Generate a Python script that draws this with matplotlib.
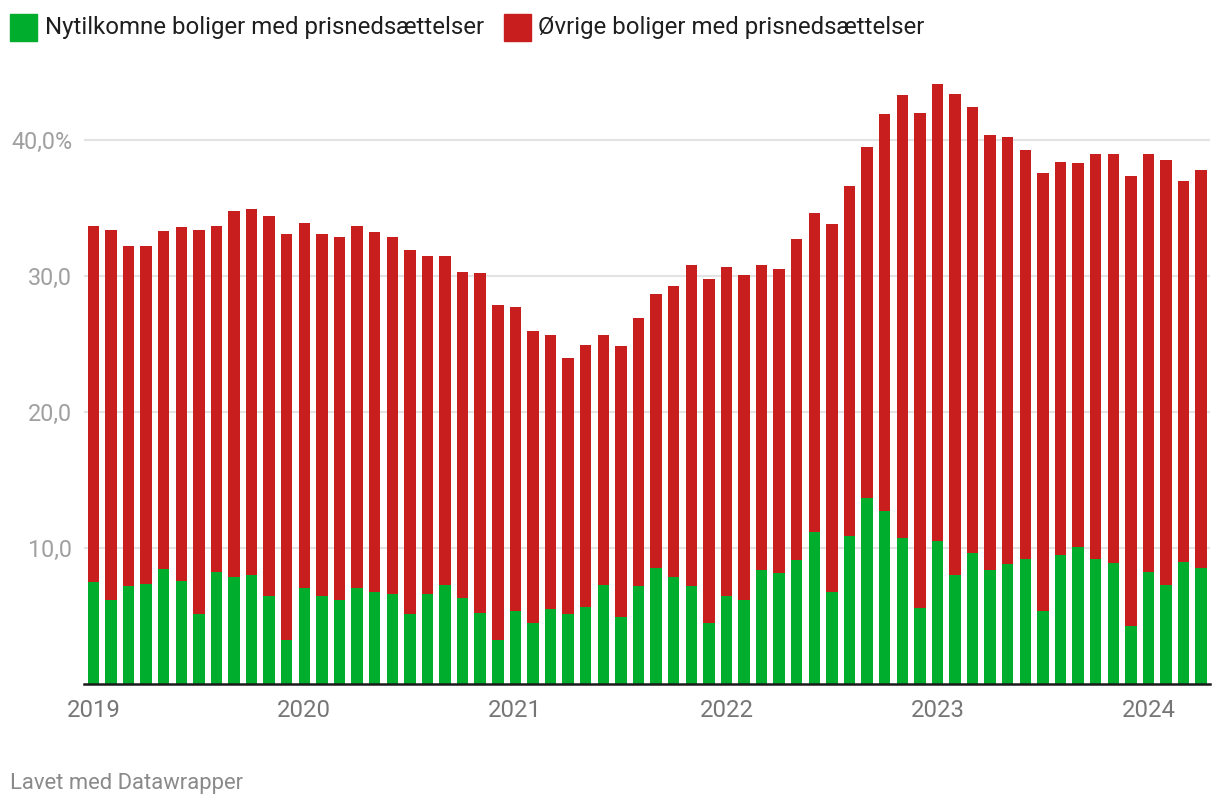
import matplotlib
matplotlib.use("Agg")
import matplotlib.pyplot as plt
import numpy as np

plt.rcParams['font.family'] = ['Roboto', 'DejaVu Sans']

years = ["2019", "2020", "2021", "2022", "2023", "2024"]

# Total share of homes with price reductions (%), monthly Jan 2019 - Apr 2024
total = [
    33.7, 33.4, 32.2, 32.2, 33.3, 33.6, 33.4, 33.7, 34.75, 34.95, 34.4, 33.1,
    33.9, 33.1, 32.85, 33.65, 33.2, 32.85, 31.9, 31.5, 31.5, 30.3, 30.25, 27.85,
    27.75, 25.95, 25.65, 23.95, 24.95, 25.65, 24.85, 26.9, 28.65, 29.25, 30.8, 29.75,
    30.65, 30.1, 30.8, 30.55, 32.75, 34.65, 33.85, 36.6, 39.5, 41.9, 43.3, 41.95,
    44.1, 43.35, 42.45, 40.35, 40.2, 39.25, 37.55, 38.35, 38.3, 38.95, 38.95, 37.35,
    38.95, 38.55, 36.95, 37.8,
]
# Newly listed homes with price reductions (%)
nytilkomne = [
    7.5, 6.2, 7.2, 7.35, 8.45, 7.6, 5.15, 8.2, 7.9, 8.05, 6.5, 3.2,
    7.05, 6.5, 6.15, 7.05, 6.8, 6.65, 5.15, 6.65, 7.25, 6.35, 5.25, 3.2,
    5.35, 4.45, 5.55, 5.15, 5.65, 7.25, 4.95, 7.2, 8.55, 7.85, 7.2, 4.45,
    6.5, 6.2, 8.4, 8.15, 9.15, 11.2, 6.75, 10.9, 13.65, 12.75, 10.75, 5.6,
    10.55, 8.05, 9.65, 8.4, 8.85, 9.2, 5.4, 9.5, 10.1, 9.2, 8.9, 4.3,
    8.25, 7.3, 9.0, 8.55,
]
ovrige = [t - n for t, n in zip(total, nytilkomne)]

GREEN = "#00ad2d"
RED = "#c91e1e"

W, H = 1220, 808
fig = plt.figure(figsize=(W / 100, H / 100), dpi=100)

x0, x1 = 84, 1210
y_base = 684
px_per_unit = 13.6
ymax = 45
ax = fig.add_axes([x0 / W, (H - y_base) / H, (x1 - x0) / W, ymax * px_per_unit / H])

x = np.arange(len(total))
ax.bar(x, nytilkomne, width=0.65, color=GREEN, zorder=3, label="Nytilkomne boliger med prisnedsættelser")
ax.bar(x, ovrige, bottom=nytilkomne, width=0.65, color=RED, zorder=3, label="Øvrige boliger med prisnedsættelser")

ax.set_xlim(-0.53, 63.5)
ax.set_ylim(0, ymax)

ax.set_yticks([10, 20, 30, 40])
ax.set_yticklabels(["10,0", "20,0", "30,0", "40,0%"])
ax.yaxis.grid(True, color="#e3e3e3", linewidth=1.5, zorder=0)
ax.tick_params(axis="y", length=0, pad=8.5, labelsize=16.8, labelcolor="#a0a0a0")

ax.set_xticks(np.arange(0, len(total), 12))
ax.set_xticklabels(years)
ax.tick_params(axis="x", length=0, pad=10.5, labelsize=17.2, labelcolor="#767676")

for s in ["top", "right", "left"]:
    ax.spines[s].set_visible(False)
ax.spines["bottom"].set_color("#1a1a1a")
ax.spines["bottom"].set_linewidth(1.8)
ax.spines["bottom"].set_zorder(4)

# Legend (manual, Datawrapper style)
fig.patches.append(matplotlib.patches.Rectangle((10 / W, (H - 41) / H), 27 / W, 27 / H,
                                                 transform=fig.transFigure, color=GREEN))
fig.text(45 / W, (H - 27.5) / H, "Nytilkomne boliger med prisnedsættelser",
         fontsize=17.3, color="#1e1e1e", va="center", ha="left")
fig.patches.append(matplotlib.patches.Rectangle((504 / W, (H - 41) / H), 27 / W, 27 / H,
                                                 transform=fig.transFigure, color=RED))
fig.text(538 / W, (H - 27.5) / H, "Øvrige boliger med prisnedsættelser",
         fontsize=17.3, color="#1e1e1e", va="center", ha="left")

fig.text(10 / W, (H - 784) / H, "Lavet med Datawrapper", fontsize=15.8,
         color="#8a8a8a", va="center", ha="left")

fig.savefig("out.png", dpi=100, facecolor="white")
